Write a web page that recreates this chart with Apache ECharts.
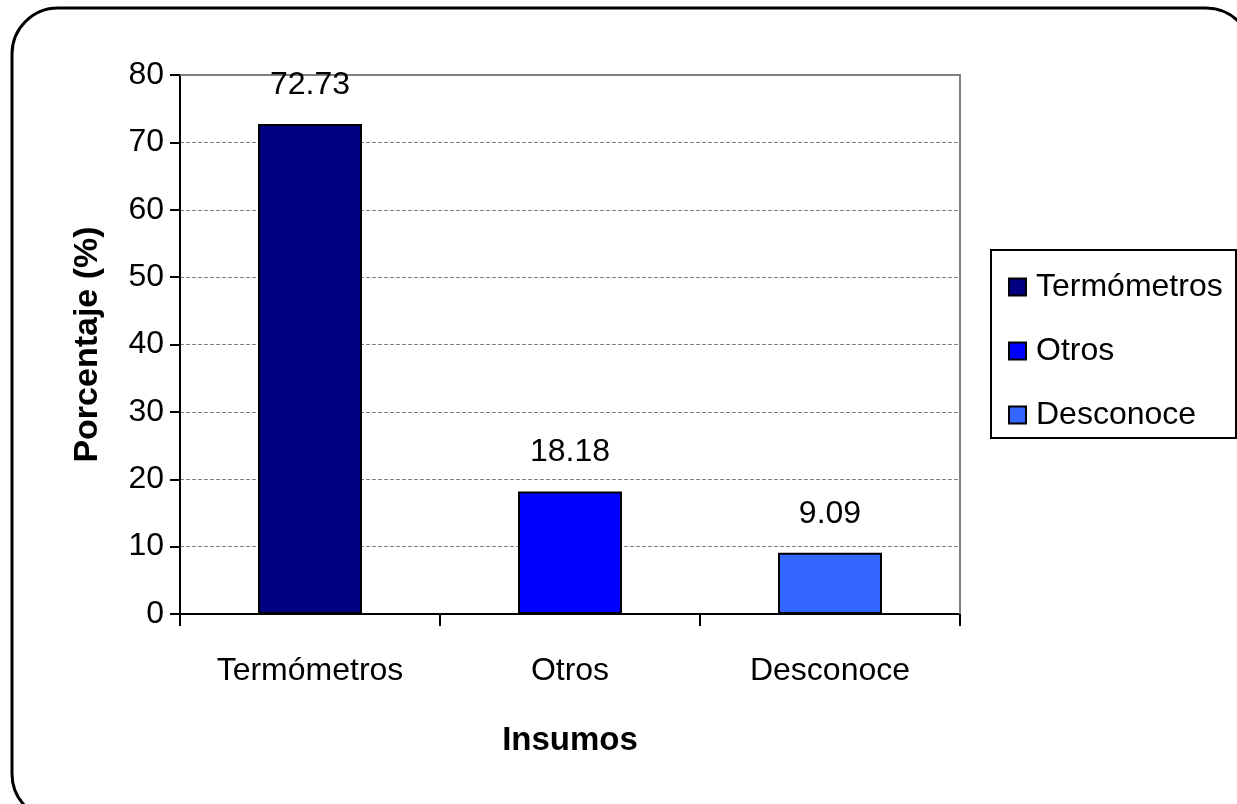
<!DOCTYPE html>
<html>
<head>
<meta charset="utf-8">
<script src="https://cdn.jsdelivr.net/npm/echarts@6/dist/echarts.min.js"></script>
<style>
  html, body { margin: 0; padding: 0; background: #fff; }
  #chart { width: 1237px; height: 804px; }
</style>
</head>
<body>
<div id="chart"></div>
<script>
var categories = ['Termómetros', 'Otros', 'Desconoce'];
var values = [72.73, 18.18, 9.09];
var colors = ['#000080', '#0000FF', '#3366FF'];
var yTicks = [0, 10, 20, 30, 40, 50, 60, 70, 80];

var font = 'Liberation Sans, Arial, sans-serif';

// one series per category so the legend lists each one
var series = categories.map(function (name, i) {
  return {
    name: name,
    type: 'bar',
    stack: 'all',
    barWidth: 104,
    itemStyle: { color: colors[i], borderColor: '#000', borderWidth: 2 },
    label: {
      show: true,
      position: 'top',
      distance: 23,
      color: '#000',
      fontFamily: font,
      fontSize: 32,
      formatter: function (p) { return p.value.toFixed(2); }
    },
    data: categories.map(function (c, j) { return j === i ? values[i] : null; })
  };
});

var chart = echarts.init(document.getElementById('chart'));
chart.setOption({
  animation: false,
  graphic: [{
    type: 'rect',
    shape: { x: 12, y: 8, width: 1240, height: 812, r: 46 },
    style: { fill: 'none', stroke: '#000', lineWidth: 3 },
    z: 0
  }, {
    type: 'rect',
    shape: { x: 991, y: 250, width: 245, height: 188 },
    style: { fill: '#fff', stroke: '#000', lineWidth: 2 },
    z: 1
  }, {
    // plot area frame (top and right edges in gray)
    type: 'polyline',
    shape: { points: [[180, 75], [960, 75], [960, 614]] },
    style: { stroke: '#808080', lineWidth: 2, fill: 'none' },
    z: 1
  }],
  grid: { left: 180, top: 75, right: 277, bottom: 190 },
  legend: {
    data: categories,
    orient: 'vertical',
    left: 1003,
    top: 266,
    itemGap: 32,
    itemWidth: 17,
    itemHeight: 17,
    icon: 'rect',
    itemStyle: { borderColor: '#000', borderWidth: 2 },
    textStyle: { color: '#000', fontFamily: font, fontSize: 32, lineHeight: 32, padding: [0, 0, 0, 5] },
    z: 5
  },
  xAxis: {
    type: 'category',
    data: categories,
    name: 'Insumos',
    nameLocation: 'middle',
    nameGap: 110,
    nameTextStyle: { color: '#000', fontFamily: font, fontSize: 33, fontWeight: 'bold' },
    axisLine: { lineStyle: { color: '#000', width: 2 } },
    axisTick: { show: true, length: 12, lineStyle: { color: '#000', width: 2 } },
    axisLabel: { color: '#000', fontFamily: font, fontSize: 32, margin: 41 }
  },
  yAxis: {
    type: 'value',
    min: yTicks[0],
    max: yTicks[yTicks.length - 1],
    interval: 10,
    name: 'Porcentaje (%)',
    nameLocation: 'middle',
    nameGap: 75,
    nameTextStyle: { color: '#000', fontFamily: font, fontSize: 34, fontWeight: 'bold' },
    axisLine: { show: true, lineStyle: { color: '#000', width: 2 } },
    axisTick: { show: true, length: 10, lineStyle: { color: '#000', width: 2 } },
    axisLabel: { color: '#000', fontFamily: font, fontSize: 32, margin: 16, padding: [5, 0, 0, 0] },
    splitLine: { lineStyle: { color: '#808080', width: 1, type: [4, 2] } }
  },
  series: series
});
</script>
</body>
</html>
